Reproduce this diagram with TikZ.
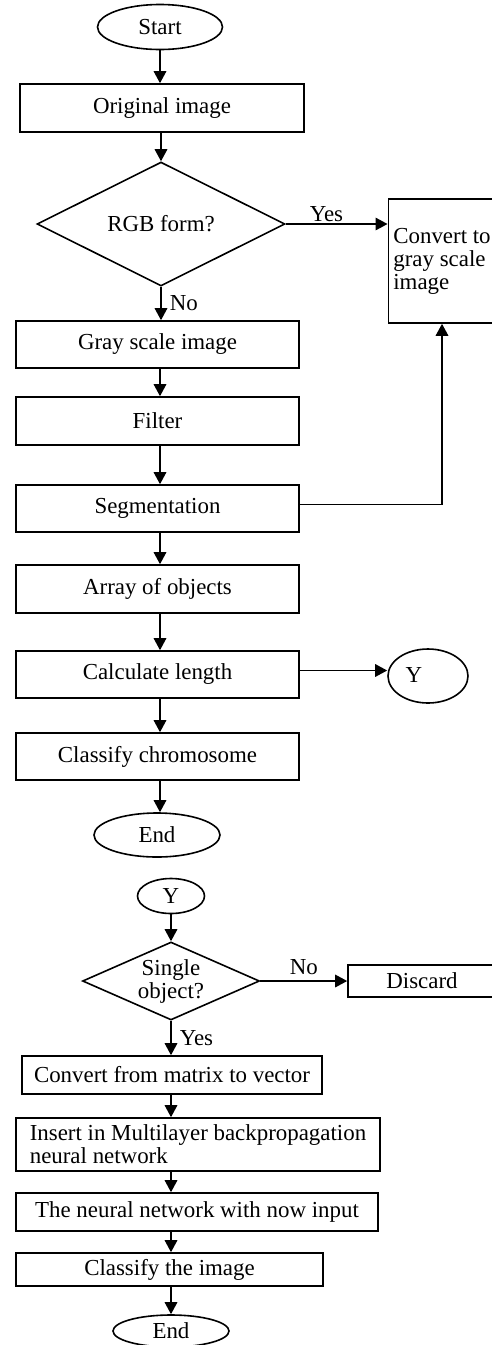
\documentclass[tikz,border=0pt]{standalone}
\usepackage{fontspec}
\setmainfont{Liberation Serif}
\usetikzlibrary{shapes.geometric,arrows.meta}
\begin{document}
\begin{tikzpicture}[x=1pt,y=-1pt,
  every node/.style={font=\fontsize{22.9}{23}\selectfont},
  lw/.style={line width=1.6pt},
  box/.style={lw,draw,rectangle,inner sep=0pt},
  term/.style={lw,draw,ellipse,inner sep=0pt},
  dec/.style={lw,draw,diamond,inner sep=0pt,align=center},
  arr/.style={lw,-{Triangle[length=12pt,width=12.5pt]}},
  lbl/.style={inner sep=0pt}
]
\useasboundingbox (0,0) rectangle (492,1345);
% top flowchart
\node[term,minimum width=125pt,minimum height=45pt] (start) at (160,27) {Start};
\node[box,minimum width=284pt,minimum height=48pt] (orig) at (162,108) {Original image};
\node[dec,minimum width=248pt,minimum height=118pt] (rgb) at (161,224) {RGB form?};
\node[box,minimum width=106pt,minimum height=124pt,inner xsep=5pt,align=left] (conv) at (442,261) {Convert to\\gray scale\\image};
\node[box,minimum width=283pt,minimum height=47pt] (gray) at (157.5,344.5) {Gray scale image};
\node[box,minimum width=283pt,minimum height=48pt] (filter) at (157.5,421) {Filter};
\node[box,minimum width=283pt,minimum height=47pt] (seg) at (157.5,508.5) {Segmentation};
\node[box,minimum width=283pt,minimum height=48pt] (array) at (157.5,589) {Array of objects};
\node[box,minimum width=283pt,minimum height=47pt] (calc) at (157.5,674.5) {Calculate length};
\node[box,minimum width=283pt,minimum height=47pt] (classc) at (157.5,756.5) {Classify chromosome};
\node[term,minimum width=126pt,minimum height=44pt] (end1) at (157,835) {End};
\node[term,minimum width=80pt,minimum height=54pt] (y1) at (428,676) {};
\node[lbl] (y1t) at ([xshift=-14pt,yshift=1pt]y1.center) {Y};

\draw[arr] (start.south -| 160,0) -- (160,0 |- orig.north);
\draw[arr] (orig.south -| rgb.north) -- (rgb.north);
\draw[arr] (rgb.east) -- (rgb.east -| conv.west) node[lbl,pos=0.4,above=1pt] {Yes};
\draw[arr] (rgb.south) -- (rgb.south |- gray.north) node[lbl,midway,right=8pt] {No};
\draw[arr] (gray.south -| 160,0) -- (160,0 |- filter.north);
\draw[arr] (filter.south -| 160,0) -- (160,0 |- seg.north);
\draw[arr] ([yshift=4pt]seg.east) -| (conv.south);
\draw[arr] (seg.south -| 160,0) -- (160,0 |- array.north);
\draw[arr] (array.south -| 160,0) -- (160,0 |- calc.north);
\draw[arr] ([yshift=4pt]calc.east) -- ([yshift=4pt]calc.east -| y1.west);
\draw[arr] (calc.south -| 160,0) -- (160,0 |- classc.north);
\draw[arr] (classc.south -| 160,0) -- (160,0 |- end1.north);

% bottom flowchart
\node[term,minimum width=67pt,minimum height=35pt] (y2) at (171,896) {Y};
\node[dec,aspect=2.27,minimum width=177pt,minimum height=78pt] (single) at (171,981) {Single\\object?};
\node[box,minimum width=148pt,minimum height=32pt] (discard) at (422,981) {Discard};
\node[box,minimum width=300pt,minimum height=38pt] (matrix) at (172,1075) {Convert from matrix to vector};
\node[box,minimum width=364pt,minimum height=53pt,inner xsep=14pt,align=left] (insert) at (198,1144.5) {Insert in Multilayer backpropagation\\neural network};
\node[box,minimum width=362pt,minimum height=38pt] (nn) at (197,1212) {The neural network with now input};
\node[box,minimum width=307pt,minimum height=33pt] (classi) at (169.5,1269.5) {Classify the image};
\node[term,minimum width=116pt,minimum height=32pt] (end2) at (171,1331) {End};

\draw[arr] (y2.south) -- (single.north);
\draw[arr] (single.east) -- (discard.west) node[lbl,midway,above=5pt] {No};
\draw[arr] (single.south) -- (single.south |- matrix.north) node[lbl,midway,right=8pt] {Yes};
\draw[arr] (matrix.south -| 171,0) -- (171,0 |- insert.north);
\draw[arr] (insert.south -| 171,0) -- (171,0 |- nn.north);
\draw[arr] (nn.south -| 171,0) -- (171,0 |- classi.north);
\draw[arr] (classi.south -| 171,0) -- (171,0 |- end2.north);
\end{tikzpicture}
\end{document}
